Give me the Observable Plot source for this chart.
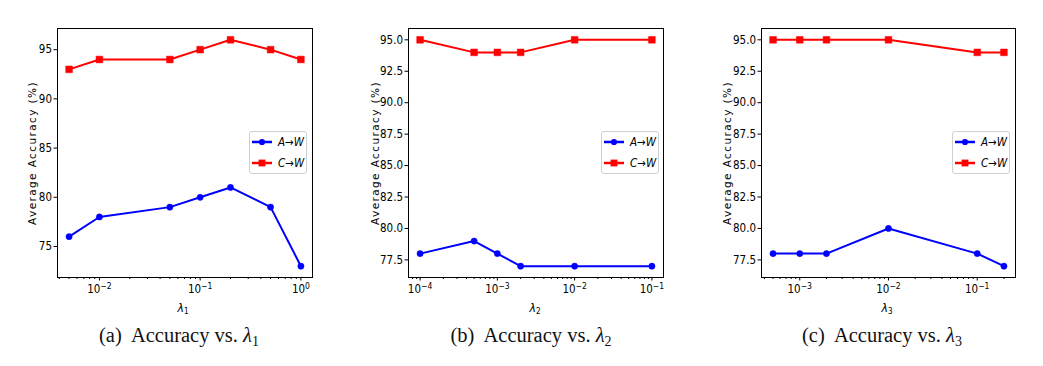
<!DOCTYPE html>
<html><head><meta charset="utf-8">
<script src="https://cdn.jsdelivr.net/npm/d3@7"></script>
<script src="https://cdn.jsdelivr.net/npm/@observablehq/plot@0.6"></script>
<style>
body{margin:0;background:#fff;}
#wrap{position:relative;width:1043px;height:366px;overflow:hidden;background:#fff;}
.panel{position:absolute;top:0;}
.ylab{position:absolute;width:170px;text-align:center;font-family:"DejaVu Sans";font-size:10.5px;letter-spacing:1.4px;white-space:nowrap;transform:translate(-50%,-50%) rotate(-90deg);color:#000;}
.xlab{position:absolute;font-family:"DejaVu Sans Condensed","DejaVu Sans";font-stretch:condensed;font-style:italic;font-size:12px;transform:translate(-50%,-50%);white-space:nowrap;}
.xlab sub{font-size:8px;font-style:normal;vertical-align:-2px;}
.cap{position:absolute;font-family:"Liberation Serif","Times New Roman",serif;font-size:20.5px;transform:translate(-50%,-50%);white-space:nowrap;color:#111;}
.cap sub{font-size:14px;vertical-align:-4px;}
.legend{position:absolute;width:58px;height:43px;border:1px solid #d0d0d0;border-radius:3px;background:rgba(255,255,255,0.8);box-sizing:border-box;}
.lrow{position:absolute;left:1px;height:14px;display:flex;align-items:center;font-family:"DejaVu Sans Condensed","DejaVu Sans";font-stretch:condensed;font-style:italic;font-size:11.5px;}
.lrow svg{margin-right:5px;}
</style></head>
<body><div id="wrap"></div>
<script>
// ---- data ----
const seriesNames = ["A→W", "C→W"];
const seriesColors = ["#0000ff", "#ff0000"];
const seriesSymbols = ["circle", "square"];

const lambda1 = [0.005, 0.01, 0.05, 0.1, 0.2, 0.5, 1];
const accAW1 = [76, 78, 79, 80, 81, 79, 73];
const accCW1 = [93, 94, 94, 95, 96, 95, 94];

const lambda2 = [1e-4, 5e-4, 1e-3, 2e-3, 1e-2, 1e-1];
const accAW2 = [78, 79, 78, 77, 77, 77];
const accCW2 = [95, 94, 94, 94, 95, 95];

const lambda3 = [5e-4, 1e-3, 2e-3, 1e-2, 1e-1, 0.2];
const accAW3 = [78, 78, 78, 80, 78, 77];
const accCW3 = [95, 95, 95, 95, 94, 94];

const xTicks1 = [1e-2, 1e-1, 1];
const xTickExp1 = ["−2", "−1", "0"];
const xTicks2 = [1e-4, 1e-3, 1e-2, 1e-1];
const xTickExp2 = ["−4", "−3", "−2", "−1"];
const xTicks3 = [1e-3, 1e-2, 1e-1];
const xTickExp3 = ["−3", "−2", "−1"];

const yTicks1 = [75, 80, 85, 90, 95];
const yTicks23 = [77.5, 80, 82.5, 85, 87.5, 90, 92.5, 95];

const yLabel = "Average Accuracy (%)";
const xLabelSubs = ["1", "2", "3"];
const captionPrefixes = ["(a)", "(b)", "(c)"];

// ---- helpers ----
function minorTicks(lo, hi) {
  const out = [];
  for (let e = Math.floor(lo); e <= Math.ceil(hi); e++) {
    for (let m = 2; m <= 9; m++) {
      const v = m * Math.pow(10, e);
      const l = Math.log10(v);
      if (l >= lo && l <= hi) out.push(v);
    }
  }
  return out;
}
function paddedLogDomain(xs) {
  const l = xs.map(Math.log10);
  const a = Math.min(...l), b = Math.max(...l), p = (b - a) * 0.05;
  return [a - p, b + p];
}
function paddedDomain(vals) {
  const a = Math.min(...vals), b = Math.max(...vals), p = (b - a) * 0.05;
  return [a - p, b + p];
}

const wrap = document.getElementById("wrap");

const panels = [
  {left: 0, ml: 57, mr: 18, xs: lambda1, a: accAW1, c: accCW1, xt: xTicks1, xte: xTickExp1, yt: yTicks1, yfmt: d3.format("d"), ylx: 32, xlx: 183, capx: 179, legx: 249},
  {left: 350, ml: 58, mr: 17, xs: lambda2, a: accAW2, c: accCW2, xt: xTicks2, xte: xTickExp2, yt: yTicks23, yfmt: d3.format(".1f"), ylx: 375, xlx: 535, capx: 531, legx: 601},
  {left: 700, ml: 61, mr: 15, xs: lambda3, a: accAW3, c: accCW3, xt: xTicks3, xte: xTickExp3, yt: yTicks23, yfmt: d3.format(".1f"), ylx: 727, xlx: 887, capx: 882, legx: 952}
];

panels.forEach((p, i) => {
  const ld = paddedLogDomain(p.xs);
  const yd = paddedDomain([...p.a, ...p.c]);
  const series = [p.a, p.c].map((vals, k) => p.xs.map((x, j) => ({x, y: vals[j], s: seriesNames[k]})));
  const marks = [
    Plot.axisY({ticks: p.yt, tickSize: 3.5, tickPadding: 2, tickFormat: p.yfmt, label: null}),
    Plot.axisX({ticks: minorTicks(ld[0], ld[1]), tickSize: 2, tickFormat: () => "", label: null}),
    Plot.axisX({ticks: p.xt, tickSize: 3.5, tickPadding: 4, tickFormat: (d) => "10^" + p.xte[p.xt.indexOf(d)], label: null, className: "xmajor"}),
  ];
  series.forEach((rows, k) => {
    marks.push(Plot.line(rows, {x: "x", y: "y", stroke: seriesColors[k], strokeWidth: 2}));
    marks.push(Plot.dot(rows, {x: "x", y: "y", fill: seriesColors[k], stroke: seriesColors[k], strokeWidth: 0.5, symbol: seriesSymbols[k], r: k === 0 ? 3.1 : 3.8}));
  });
  marks.push(Plot.frame({stroke: "black", strokeWidth: 1}));
  const chart = Plot.plot({
    width: 330, height: 300,
    marginLeft: p.ml, marginRight: p.mr, marginTop: 28, marginBottom: 23,
    x: {type: "log", domain: [Math.pow(10, ld[0]), Math.pow(10, ld[1])]},
    y: {domain: yd},
    style: {fontFamily: "'DejaVu Sans Condensed','DejaVu Sans',sans-serif", fontStretch: "condensed", fontSize: "11.5px", background: "transparent", color: "#000", overflow: "visible"},
    marks
  });
  chart.classList.add("panel");
  chart.style.left = p.left + "px";
  // render exponents as real superscripts
  chart.querySelectorAll(".xmajor text").forEach((t) => {
    const s = t.textContent;
    if (!s.startsWith("10^")) return;
    const exp = s.slice(3);
    t.textContent = "";
    const base = document.createElementNS("http://www.w3.org/2000/svg", "tspan");
    base.textContent = "10";
    const sup = document.createElementNS("http://www.w3.org/2000/svg", "tspan");
    sup.textContent = exp;
    sup.setAttribute("dy", "-4");
    sup.setAttribute("font-size", "8.5");
    t.appendChild(base); t.appendChild(sup);
  });
  wrap.appendChild(chart);

  const yl = document.createElement("div");
  yl.className = "ylab"; yl.textContent = yLabel;
  yl.style.left = p.ylx + "px"; yl.style.top = "153px";
  wrap.appendChild(yl);

  const xl = document.createElement("div");
  xl.className = "xlab"; xl.innerHTML = "λ<sub>" + xLabelSubs[i] + "</sub>";
  xl.style.left = p.xlx + "px"; xl.style.top = "308px";
  wrap.appendChild(xl);

  const cap = document.createElement("div");
  cap.className = "cap";
  cap.innerHTML = captionPrefixes[i] + "&nbsp; Accuracy vs. <i>λ</i><sub>" + xLabelSubs[i] + "</sub>";
  cap.style.left = p.capx + "px"; cap.style.top = "337px";
  wrap.appendChild(cap);

  const leg = document.createElement("div");
  leg.className = "legend";
  leg.style.left = p.legx + "px"; leg.style.top = "131px";
  seriesNames.forEach((name, k) => {
    const row = document.createElement("div");
    row.className = "lrow";
    row.style.top = (k === 0 ? 3 : 24) + "px";
    const marker = k === 0
      ? '<circle cx="11" cy="7" r="3.1" fill="' + seriesColors[k] + '"/>'
      : '<rect x="7.6" y="3.6" width="6.8" height="6.8" fill="' + seriesColors[k] + '"/>';
    row.innerHTML = '<svg width="22" height="14"><line x1="1" x2="21" y1="7" y2="7" stroke="' + seriesColors[k] + '" stroke-width="2.5"/>' + marker + '</svg><span>' + name + '</span>';
    leg.appendChild(row);
  });
  wrap.appendChild(leg);
});
</script>
</body></html>
